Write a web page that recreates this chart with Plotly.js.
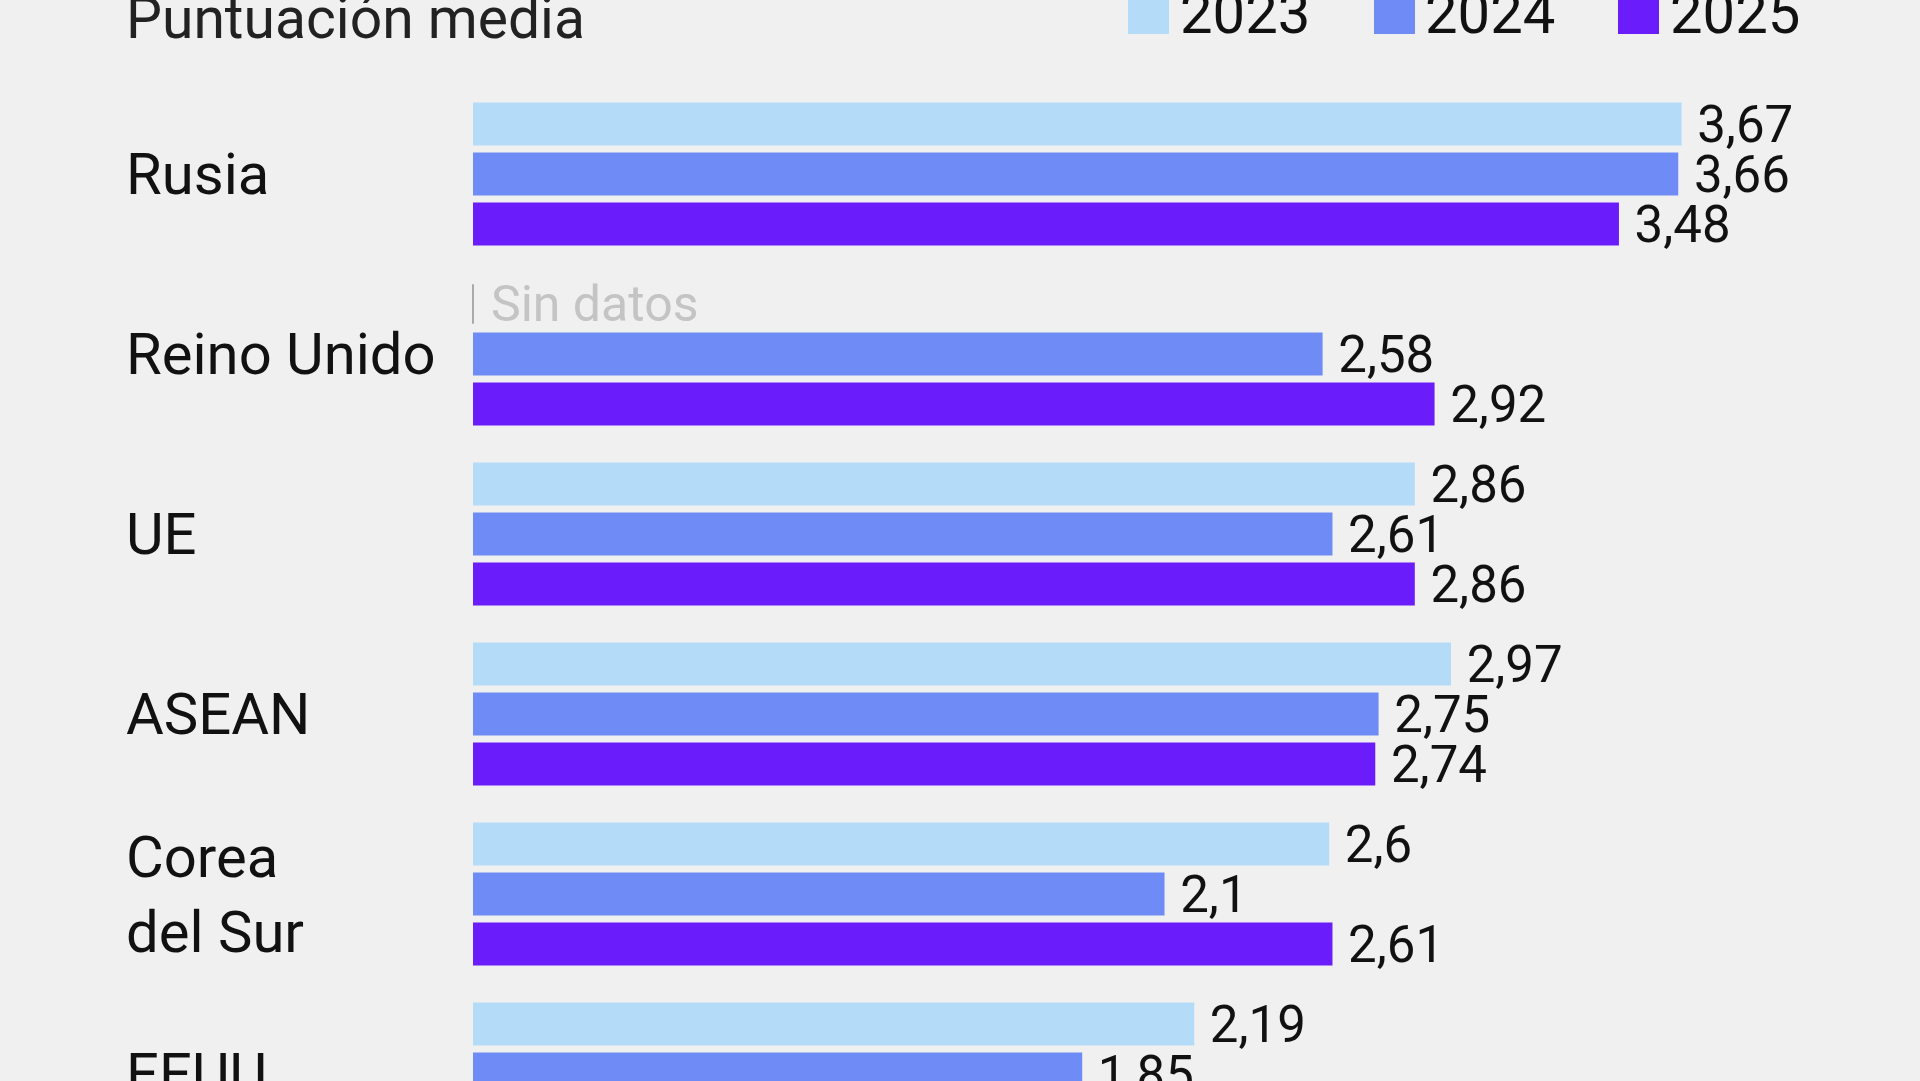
<!DOCTYPE html>
<html>
<head>
<meta charset="utf-8">
<script src="https://cdn.plot.ly/plotly-3.0.1.min.js"></script>
<style>
  html, body { margin: 0; padding: 0; background: #f0f0f0; }
  #chart { width: 1920px; height: 1081px; }
</style>
</head>
<body>
<div id="chart"></div>
<script>
// ---- data ----
const categories = ['Rusia', 'Reino Unido', 'UE', 'ASEAN', 'Corea del Sur', 'EEUU'];
const tickLabels = ['Rusia', 'Reino Unido', 'UE', 'ASEAN', 'Corea<br>del Sur', 'EEUU'];
const seriesNames = ['2023', '2024', '2025'];
const values2023 = [3.67, null, 2.86, 2.97, 2.6, 2.19];
const values2024 = [3.66, 2.58, 2.61, 2.75, 2.1, 1.85];
const values2025 = [3.48, 2.92, 2.86, 2.74, 2.61, null];
const colors = ['#b4dbf7', '#6e8bf6', '#6a1cfb'];
const noDataLabel = 'Sin datos';
const titleText = 'Puntuación media';

// ---- layout geometry (pixels) ----
const W = 1920, H = 1081;
const mL = 123, mR = 0, mT = 0, mB = 0;
const plotW = W - mL - mR, plotH = H - mT - mB;
const zeroPx = 473, pxPerUnit = 329.3;
const firstCatPx = 174, catPitch = 180;
const xr0 = -(zeroPx - mL) / pxPerUnit;
const xr1 = xr0 + plotW / pxPerUnit;
const yTop = -(firstCatPx - mT) / catPitch;
const yBottom = yTop + plotH / catPitch;
const px2paperX = px => (px - mL) / plotW;
const px2paperY = py => 1 - (py - mT) / plotH;

const fmt = v => (v === null ? '' : String(v).replace('.', ','));
const allValues = [values2023, values2024, values2025];

const traces = allValues.map((vals, i) => ({
  type: 'bar',
  orientation: 'h',
  name: seriesNames[i],
  y: categories,
  x: vals,
  marker: { color: colors[i] },
  text: vals.map(fmt),
  texttemplate: '\u00a0%{text}',
  textposition: 'outside',
  constraintext: 'none',
  cliponaxis: false,
  textfont: { family: 'Roboto, sans-serif', size: 51, color: '#111' },
  hoverinfo: 'skip'
}));

// Legend drawn with shapes + annotations so the swatches can be large
const legendItems = [
  { sq: 1128, tx: 1178 },
  { sq: 1374, tx: 1423 },
  { sq: 1618, tx: 1668 }
];
const shapes = [];
const annotations = [];
legendItems.forEach((it, i) => {
  shapes.push({
    type: 'rect', xref: 'paper', yref: 'paper',
    x0: px2paperX(it.sq), x1: px2paperX(it.sq + 41),
    y0: px2paperY(-8), y1: px2paperY(34),
    fillcolor: colors[i], line: { width: 0 }
  });
  annotations.push({
    xref: 'paper', yref: 'paper',
    x: px2paperX(it.tx), y: px2paperY(13),
    xanchor: 'left', yanchor: 'middle',
    text: seriesNames[i], showarrow: false,
    font: { family: 'Roboto, sans-serif', size: 58, color: '#111' }
  });
});

// "Sin datos" marker for the missing 2023 value of Reino Unido
const missIdx = categories.indexOf('Reino Unido');
const slot = (1 - 30 / 180) / 3;
shapes.push({
  type: 'line', xref: 'x', yref: 'y',
  x0: 0, x1: 0,
  y0: missIdx - slot - 0.11, y1: missIdx - slot + 0.11,
  line: { color: '#aaaaaa', width: 2 }
});
annotations.push({
  xref: 'x', yref: 'y', x: 0, y: missIdx - slot,
  xanchor: 'left', yanchor: 'middle', xshift: 16,
  text: noDataLabel, showarrow: false,
  font: { family: 'Roboto, sans-serif', size: 50, color: '#c4c4c4' }
});

const layout = {
  width: W, height: H,
  paper_bgcolor: '#f0f0f0',
  plot_bgcolor: '#f0f0f0',
  margin: { l: mL, r: mR, t: mT, b: mB, pad: 0 },
  showlegend: false,
  barmode: 'group',
  bargap: 30 / 180,
  bargroupgap: 0.14,
  title: {
    text: titleText,
    xref: 'container', yref: 'container',
    x: 126 / W, xanchor: 'left',
    y: 1 - 38 / H, yanchor: 'bottom',
    font: { family: 'Roboto, sans-serif', size: 57, color: '#222' }
  },
  xaxis: {
    range: [xr0, xr1],
    showgrid: false, zeroline: false, showline: false,
    showticklabels: false, ticks: ''
  },
  yaxis: {
    type: 'category',
    range: [yBottom, yTop],
    tickmode: 'array',
    tickvals: categories,
    ticktext: tickLabels,
    ticklabelposition: 'inside',
    ticklabeloverflow: 'allow',
    ticks: '', showgrid: false, zeroline: false, showline: false,
    tickfont: { family: 'Roboto, sans-serif', size: 58, color: '#111' }
  },
  shapes: shapes,
  annotations: annotations,
  font: { family: 'Roboto, sans-serif' }
};

Plotly.newPlot('chart', traces, layout, { displayModeBar: false, staticPlot: true });
</script>
</body>
</html>
